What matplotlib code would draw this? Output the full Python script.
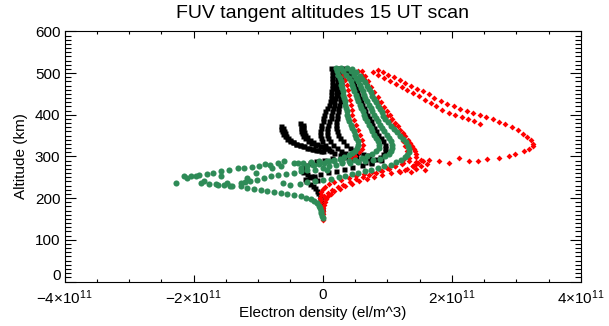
import matplotlib
matplotlib.use("Agg")
import matplotlib.pyplot as plt
from matplotlib.ticker import MultipleLocator, FuncFormatter

plt.rcParams['font.family'] = ['Liberation Sans', 'DejaVu Sans']

SCALE = 1e11  # densities below are in units of 1e11 el/m^3

# ---------------- green profiles (circles) ----------------
g1_den = [0.20, 0.22, 0.24, 0.26, 0.28, 0.29, 0.30, 0.31, 0.32, 0.33, 0.34, 0.35, 0.36,
          0.37, 0.38, 0.39, 0.41, 0.43, 0.45, 0.48, 0.50, 0.52, 0.54, 0.54, 0.53,
          0.50, 0.46, 0.40, 0.33, 0.26, 0.18, 0.10, 0.02, -0.06, -0.15, -0.24, -0.34]
g1_alt = [512, 504, 496, 488, 480, 472, 464, 456, 448, 440, 432, 424, 416,
          408, 400, 392, 384, 376, 368, 360, 352, 344, 336, 328, 320,
          314, 308, 303, 299, 295, 291, 288, 285, 282, 279, 276, 273]

g2_den = [0.28, 0.32, 0.36, 0.40, 0.43, 0.45, 0.47, 0.49, 0.51, 0.53, 0.55, 0.57, 0.59,
          0.62, 0.64, 0.66, 0.68, 0.71, 0.74, 0.77, 0.80, 0.83, 0.86, 0.87, 0.87,
          0.83, 0.77, 0.69, 0.60, 0.50, 0.40, 0.30, 0.20, 0.10, 0.00, -0.12, -0.24,
          -0.34, -0.44, -0.57, -0.70, -0.80, -0.91, -1.02, -1.12, -1.20, -1.27, -1.43,
          -1.63, -1.76, -1.89, -2.10, -2.28]
g2_alt = [512, 504, 496, 488, 480, 472, 464, 456, 448, 440, 432, 424, 416,
          408, 400, 392, 384, 376, 368, 360, 352, 344, 336, 328, 320,
          312, 306, 300, 296, 292, 288, 284, 280, 276, 272, 268, 268,
          264, 260, 258, 256, 252, 248, 244, 240, 238, 236, 228,
          232, 234, 236, 248, 236]

g3_den = [0.38, 0.43, 0.48, 0.52, 0.55, 0.57, 0.59, 0.62, 0.64, 0.66, 0.69, 0.71, 0.74,
          0.77, 0.80, 0.83, 0.86, 0.89, 0.92, 0.95, 0.99, 1.02, 1.05, 1.08, 1.08,
          1.06, 1.02, 0.96, 0.88, 0.78, 0.66, 0.54, 0.42, 0.30, 0.18, 0.06, -0.06,
          -0.18, -0.30, -0.45, -0.60, -0.70, -0.81, -0.90, -0.99, -1.10, -1.22, -1.32,
          -1.45, -1.58, -1.70, -1.79, -1.92, -2.04, -2.15]
g3_alt = [512, 504, 496, 488, 480, 472, 464, 456, 448, 440, 432, 424, 416,
          408, 400, 392, 384, 376, 368, 360, 352, 344, 336, 328, 320,
          312, 306, 300, 294, 291, 288, 286, 285, 286, 288, 289, 288,
          286, 285, 284, 288, 284, 280, 281, 277, 275, 272, 272,
          268, 264, 261, 258, 256, 254, 253]

g4_den = [0.45, 0.52, 0.57, 0.61, 0.65, 0.68, 0.71, 0.74, 0.77, 0.80, 0.82, 0.85, 0.88,
          0.91, 0.94, 0.97, 1.01, 1.05, 1.10, 1.15, 1.20, 1.25, 1.29, 1.32, 1.34,
          1.33, 1.31, 1.27, 1.21, 1.14, 1.05, 0.95, 0.85, 0.75, 0.65, 0.55, 0.45,
          0.35, 0.25, 0.12, 0.00, -0.12, -0.24, -0.36, -0.50, -0.62]
g4_alt = [510, 502, 494, 486, 478, 470, 462, 454, 446, 438, 430, 422, 414,
          406, 398, 390, 382, 374, 366, 358, 350, 342, 334, 326, 318,
          310, 304, 298, 292, 286, 280, 276, 272, 268, 265, 261, 257,
          253, 250, 246, 243, 240, 238, 234, 232, 236]

g5_den = [0.00, -0.01, -0.02, -0.03, -0.04, -0.06, -0.09, -0.13, -0.19, -0.26, -0.34,
          -0.44, -0.55, -0.65, -0.75, -0.86, -0.96, -1.06, -1.17, -1.27, -1.40, -1.53, -1.65]
g5_alt = [152, 158, 164, 170, 176, 182, 188, 193, 197, 201, 204,
          207, 210, 212, 214, 216, 219, 221, 224, 228, 230, 232, 234]

g6_den = [-1.97, -1.84, -1.58, -1.48, -1.17, -1.04, -0.78, -0.65, -0.39, -0.13, 0.07]
g6_alt = [252, 240, 253, 236, 248, 260, 272, 276, 284, 280, 268]

# ---------------- black profiles (squares) ----------------
b1_den = [0.13, 0.14, 0.15, 0.15, 0.15, 0.14, 0.14, 0.13, 0.13, 0.12, 0.11, 0.10, 0.07,
          0.04, 0.02, 0.01, 0.00, -0.02, -0.03, -0.04, -0.04, -0.03, -0.01, 0.03, 0.08,
          0.12, 0.18, 0.26, 0.35, 0.45, 0.55, 0.65, 0.75]
b1_alt = [512, 504, 496, 488, 480, 472, 464, 456, 448, 440, 432, 424, 416,
          408, 400, 392, 384, 376, 368, 360, 352, 344, 336, 328, 320,
          314, 308, 303, 298, 294, 290, 287, 284]

b2_den = [0.20, 0.21, 0.22, 0.22, 0.22, 0.21, 0.21, 0.20, 0.20, 0.19, 0.18, 0.17, 0.16,
          0.14, 0.13, 0.12, 0.10, 0.08, 0.07, 0.06, 0.06, 0.08, 0.11, 0.16, 0.22,
          0.28, 0.35, 0.43, 0.52, 0.62, 0.72]
b2_alt = [512, 504, 496, 488, 480, 472, 464, 456, 448, 440, 432, 424, 416,
          408, 400, 392, 384, 376, 368, 360, 352, 344, 336, 328, 320,
          314, 309, 305, 301, 298, 296]

b3_den = [0.26, 0.28, 0.29, 0.29, 0.29, 0.28, 0.28, 0.27, 0.27, 0.26, 0.26, 0.25, 0.24,
          0.23, 0.22, 0.22, 0.21, 0.21, 0.21, 0.22, 0.24, 0.27, 0.31, 0.36, 0.42,
          0.48, 0.55, 0.62, 0.70]
b3_alt = [512, 504, 496, 488, 480, 472, 464, 456, 448, 440, 432, 424, 416,
          408, 400, 392, 384, 376, 368, 360, 352, 344, 336, 328, 320,
          315, 311, 307, 304]

b4_den = [0.33, 0.37, 0.41, 0.44, 0.47, 0.49, 0.51, 0.53, 0.55, 0.57, 0.59, 0.61, 0.64,
          0.66, 0.69, 0.71, 0.74, 0.77, 0.80, 0.83, 0.86, 0.90, 0.93, 0.96, 0.97,
          0.96, 0.93, 0.88, 0.82]
b4_alt = [512, 504, 496, 488, 480, 472, 464, 456, 448, 440, 432, 424, 416,
          408, 400, 392, 384, 376, 368, 360, 352, 344, 336, 328, 320,
          312, 305, 299, 294]

h1_den = [-0.65, -0.64, -0.63, -0.61, -0.58, -0.55, -0.51, -0.46, -0.41, -0.35, -0.29,
          -0.22, -0.15, -0.08, 0.00]
h1_alt = [372, 366, 360, 354, 348, 343, 338, 334, 330, 327, 324, 321, 318, 315, 312]

h1b_den = [-0.61, -0.60, -0.59, -0.57, -0.54, -0.50, -0.46, -0.41, -0.36, -0.30, -0.24,
           -0.17, -0.10, -0.03]
h1b_alt = [368, 362, 356, 350, 344, 339, 335, 331, 327, 324, 321, 318, 315, 312]

h2_den = [-0.35, -0.34, -0.34, -0.33, -0.32, -0.30, -0.27, -0.23, -0.18, -0.12, -0.05,
          0.02, 0.09]
h2_alt = [380, 374, 368, 362, 356, 350, 344, 338, 333, 328, 324, 320, 316]

h2b_den = [-0.31, -0.30, -0.30, -0.29, -0.27, -0.24, -0.20, -0.15, -0.09, -0.02, 0.05]
h2b_alt = [376, 370, 364, 358, 352, 346, 340, 335, 330, 325, 321]

bl1_den = [0.30, 0.15, 0.02, -0.10, -0.20, -0.27, -0.32, -0.34, -0.30, -0.24, -0.18,
           -0.13, -0.09]
bl1_alt = [300, 296, 292, 288, 284, 279, 273, 267, 262, 258, 254, 249, 244]

bl2_den = [0.90, 0.75, 0.60, 0.45, 0.33, 0.20, 0.08, -0.04, -0.14, -0.22, -0.28, -0.26,
           -0.20, -0.15, -0.12, -0.09, -0.07, -0.05, -0.04, -0.03, -0.02, -0.02, -0.01, -0.01]
bl2_alt = [292, 286, 280, 275, 270, 266, 262, 258, 254, 250, 246, 240,
           235, 230, 224, 218, 212, 206, 200, 194, 188, 182, 176, 170]

# ---------------- red profiles (diamonds) ----------------
r1a_den = [0.85, 0.93, 1.01, 1.10, 1.19, 1.28, 1.37, 1.46, 1.55, 1.64, 1.73, 1.83, 1.93,
           2.03, 2.13, 2.23, 2.33, 2.43, 2.53, 2.63, 2.73, 2.83, 2.93, 3.02, 3.10, 3.17,
           3.23, 3.26, 3.25, 3.19, 3.12, 2.98, 2.88, 2.73, 2.55, 2.40, 2.26, 2.11, 1.95,
           1.80, 1.64, 1.52, 1.45, 1.39]
r1a_alt = [508, 502, 496, 490, 483, 477, 470, 463, 456, 449, 441, 433, 427,
           421, 415, 410, 405, 400, 395, 389, 383, 377, 370, 363, 355, 347,
           339, 331, 324, 318, 313, 306, 300, 296, 293, 289, 288, 296, 284,
           288, 292, 291, 283, 276]

r1b_den = [0.78, 0.86, 0.95, 1.04, 1.13, 1.22, 1.31, 1.40, 1.49, 1.58, 1.67, 1.76, 1.85,
           1.95, 2.05, 2.15, 2.25, 2.35, 2.43]
r1b_alt = [502, 496, 489, 482, 474, 467, 459, 452, 444, 436, 428, 420, 412,
           405, 399, 394, 389, 384, 379]

r2a_den = [0.55, 0.60, 0.64, 0.68, 0.72, 0.76, 0.80, 0.85, 0.89, 0.94, 0.99, 1.04, 1.09,
           1.14, 1.19, 1.24, 1.28, 1.30, 1.29, 1.24]
r2a_alt = [505, 495, 485, 474, 463, 452, 441, 430, 418, 407, 396, 385, 374,
           362, 350, 338, 326, 314, 302, 292]

r2b_den = [0.60, 0.65, 0.70, 0.75, 0.80, 0.85, 0.90, 0.95, 1.00, 1.04, 1.08, 1.12, 1.16,
           1.20, 1.24, 1.28, 1.32, 1.35, 1.38, 1.41, 1.43, 1.45, 1.45, 1.44, 1.40]
r2b_alt = [505, 492, 480, 467, 455, 442, 430, 419, 408, 399, 390, 381, 372,
           364, 356, 348, 340, 333, 326, 319, 312, 305, 298, 286, 276]

r3_den = [0.29, 0.32, 0.35, 0.37, 0.39, 0.40, 0.42, 0.43, 0.45, 0.46, 0.48, 0.51, 0.55,
          0.58, 0.61, 0.62, 0.60, 0.56, 0.50, 0.44]
r3_alt = [508, 496, 484, 472, 460, 448, 436, 424, 412, 400, 388, 376, 364,
          352, 340, 328, 318, 310, 302, 296]

rl1_den = [0.00, 0.00, 0.00, 0.01, 0.01, 0.02, 0.03, 0.05, 0.08, 0.12, 0.18, 0.26, 0.35,
           0.45, 0.56, 0.68, 0.80, 0.92, 1.05, 1.18, 1.30, 1.40]
rl1_alt = [148, 155, 162, 169, 176, 183, 190, 197, 204, 210, 216, 222, 228,
           234, 240, 246, 251, 256, 261, 266, 271, 277]

rl2_den = [-0.04, -0.03, -0.02, 0.00, 0.04, 0.10, 0.18, 0.28, 0.40, 0.52, 0.64, 0.76,
           0.88, 1.00, 1.12, 1.24, 1.33]
rl2_alt = [200, 207, 214, 221, 227, 233, 238, 243, 248, 253, 258, 263,
           268, 273, 278, 284, 290]

rl3_den = [-0.05, -0.04, -0.02, 0.02, 0.08, 0.15, 0.23, 0.32, 0.42, 0.52, 0.62, 0.72,
           0.82, 0.92, 1.02, 1.12, 1.22]
rl3_alt = [180, 188, 196, 204, 212, 219, 226, 232, 239, 246, 251, 256,
           261, 266, 271, 276, 281]

rs_den = [1.20, 1.28, 1.36, 1.44, 1.52, 1.58, 1.47, 1.55, 1.62, 1.33]
rs_alt = [262, 268, 262, 270, 276, 268, 284, 290, 282, 296]

black_sets = [(b1_den, b1_alt), (b2_den, b2_alt), (b3_den, b3_alt), (b4_den, b4_alt),
              (h1_den, h1_alt), (h1b_den, h1b_alt), (h2_den, h2_alt), (h2b_den, h2b_alt),
              (bl1_den, bl1_alt), (bl2_den, bl2_alt)]
red_sets = [(r1a_den, r1a_alt), (r1b_den, r1b_alt), (r2a_den, r2a_alt), (r2b_den, r2b_alt),
            (r3_den, r3_alt), (rl1_den, rl1_alt), (rl2_den, rl2_alt), (rl3_den, rl3_alt),
            (rs_den, rs_alt)]
green_sets = [(g1_den, g1_alt), (g2_den, g2_alt), (g3_den, g3_alt), (g4_den, g4_alt),
              (g5_den, g5_alt), (g6_den, g6_alt)]

fig = plt.figure(figsize=(6.09, 3.26), dpi=100)
ax = fig.add_axes([0.106, 0.1365, 0.848, 0.767])

for den, alt in black_sets:
    ax.plot([d * SCALE for d in den], alt, ls='none', marker='s', ms=3.6,
            mfc='black', mec='none')
for den, alt in red_sets:
    ax.plot([d * SCALE for d in den], alt, ls='none', marker='D', ms=3.0,
            mfc='#ff0000', mec='none')
for den, alt in green_sets:
    ax.plot([d * SCALE for d in den], alt, ls='none', marker='o', ms=4.4,
            mfc='#2e8b57', mec='none')

ax.set_xlim(-4e11, 4e11)
ax.set_ylim(0, 600)
ax.xaxis.set_major_locator(MultipleLocator(2e11))
ax.xaxis.set_minor_locator(MultipleLocator(0.5e11))
ax.yaxis.set_major_locator(MultipleLocator(100))
ax.yaxis.set_minor_locator(MultipleLocator(10))


def xfmt(v, pos):
    n = int(round(v / 1e11))
    if n == 0:
        return '0'
    return r'$\mathregular{%d{\times}10^{11}}$' % n


def yfmt(v, pos):
    # the "0" is drawn separately a bit higher, like in the IDL original
    if abs(v) < 1e-9:
        return ''
    return '%d' % v


ax.xaxis.set_major_formatter(FuncFormatter(xfmt))
ax.yaxis.set_major_formatter(FuncFormatter(yfmt))

ax.tick_params(axis='x', which='major', direction='in', length=5, width=0.8,
               top=True, labelsize=11, pad=5)
ax.tick_params(axis='x', which='minor', direction='in', length=2.5, width=0.8, top=True)
ax.tick_params(axis='y', which='major', direction='in', length=8, width=0.8,
               right=True, labelsize=11, pad=3)
ax.tick_params(axis='y', which='minor', direction='in', length=4, width=0.8, right=True)
for s in ax.spines.values():
    s.set_linewidth(0.8)

ax.annotate('0', xy=(0, 0), xycoords=('axes fraction', 'data'),
            xytext=(-3, 4), textcoords='offset points',
            ha='right', va='center', fontsize=11)

ax.set_xlabel('Electron density (el/m^3)', fontsize=11, labelpad=-1)
ax.set_ylabel('Altitude (km)', fontsize=11, labelpad=5)
ax.set_title('FUV tangent altitudes 15 UT scan', fontsize=14, pad=10)

fig.savefig('out.png', dpi=100)
